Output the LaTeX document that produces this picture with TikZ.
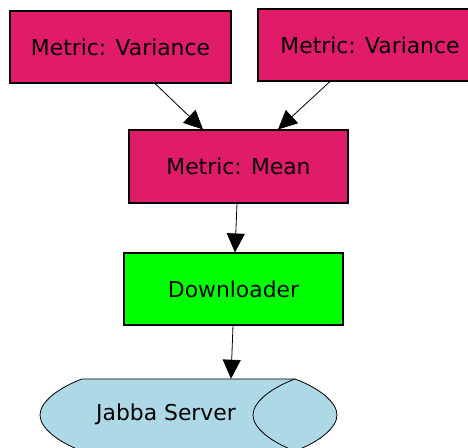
\documentclass[tikz,border=0pt]{standalone}
\usepackage{fontspec}
\setmainfont{DejaVu Sans}
\usetikzlibrary{arrows.meta,calc}
\definecolor{metric}{HTML}{E01B6A}
\definecolor{dlgreen}{HTML}{00FF00}
\definecolor{jabba}{HTML}{ADD8E6}
\tikzset{
  box/.style={draw=black, line width=0.8pt, rectangle, inner sep=0pt,
    minimum width=#1, minimum height=54pt, font=\fontsize{16.4pt}{19pt}\selectfont},
  box/.default=165pt,
  conn/.style={draw=black, line width=0.6pt, -{Triangle[length=14.25pt,width=13.5pt]}}
}
\begin{document}
\begin{tikzpicture}[x=0.75pt,y=-0.75pt]
\useasboundingbox (0,0) rectangle (468,448);
\clip (0,0) rectangle (468,448);
\node[box=165.75pt, fill=metric] (va) at (120.5,47) {Metric: Variance};
\node[box=168pt, fill=metric] (vb) at (370,45) {Metric: Variance};
\node[box=164.25pt, fill=metric, minimum height=54.75pt] (mean) at (238.5,166.5) {Metric: Mean};
\node[box=164.25pt, fill=dlgreen] (dl) at (233.5,289) {Downloader};
% Jabba Server storage shape
\filldraw[fill=jabba, draw=black, line width=0.6pt]
  (82,379) -- (295,379)
  .. controls (319,388) and (337,402) .. (337,415)
  .. controls (337,428) and (319,442) .. (295,451)
  -- (82,451)
  .. controls (58,442) and (40,428) .. (40,415)
  .. controls (40,402) and (58,388) .. (82,379) -- cycle;
\draw[black, line width=0.6pt]
  (295,379) .. controls (271,388) and (253,402) .. (253,415)
  .. controls (253,428) and (271,442) .. (295,451);
\node[inner sep=0pt, minimum width=222.75pt, minimum height=54pt,
  font=\fontsize{16.4pt}{19pt}\selectfont] (js) at (188.5,415) {};
\node[inner sep=0pt, font=\fontsize{16.4pt}{19pt}\selectfont] (jst) at (166,414) {Jabba Server};
% connectors
\draw[conn] ($(va.south)+(34.5,0)$) -- ($(mean.north)+(-35.5,0)$);
\draw[conn] ($(vb.south)+(-40,0)$) -- ($(mean.north)+(39.5,0)$);
\draw[conn] ($(mean.south)+(-1.5,0)$) -- ($(dl.north)+(1.5,0)$);
\draw[conn] ($(dl.south)+(-0.5,0)$) -- ($(js.north)+(42.5,0)$);
\end{tikzpicture}
\end{document}
